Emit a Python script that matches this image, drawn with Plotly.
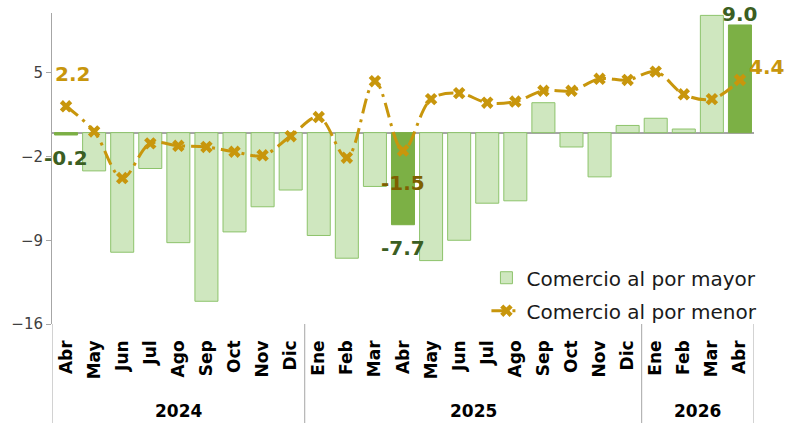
import plotly.graph_objects as go

# ---- data ----
years = ["2024"] * 9 + ["2025"] * 12 + ["2026"] * 4
months = ["Abr", "May", "Jun", "Jul", "Ago", "Sep", "Oct", "Nov", "Dic",
          "Ene", "Feb", "Mar", "Abr", "May", "Jun", "Jul", "Ago", "Sep", "Oct", "Nov", "Dic",
          "Ene", "Feb", "Mar", "Abr"]
mayor = [-0.2, -3.2, -10.0, -3.0, -9.2, -14.1, -8.3, -6.2, -4.8,
         -8.6, -10.5, -4.5, -7.7, -10.7, -9.0, -5.9, -5.7, 2.5, -1.2, -3.7, 0.6,
         1.2, 0.3, 9.8, 9.0]
menor = [2.2, 0.1, -3.8, -0.9, -1.1, -1.2, -1.6, -1.9, -0.3,
         1.3, -2.1, 4.3, -1.5, 2.8, 3.3, 2.5, 2.6, 3.5, 3.5, 4.5, 4.4,
         5.1, 3.2, 2.8, 4.4]
y_ticks = [-16, -9, -2, 5]
series_names = ["Comercio al por mayor", "Comercio al por menor"]
highlight_month = "Abr"

# ---- styles ----
LIGHT = "#CFE7BF"
LIGHT_EDGE = "#8DC36B"
DARK = "#7CB045"
GOLD = "#C8960C"
GOLD_DARK = "#7F6000"
GREEN_TXT = "#3B5E22"
AXIS_GRAY = "#A6A6A6"
FONT = "DejaVu Sans"
BAR_W = 0.82

n = len(months)
idx = list(range(n))
hl = [m == highlight_month for m in months]
reg_idx = [i for i in idx if not hl[i]]
hl_idx = [i for i in idx if hl[i]]

fig = go.Figure()
fig.add_trace(go.Bar(
    x=reg_idx, y=[mayor[i] for i in reg_idx], name=series_names[0], legendgroup="a",
    width=BAR_W,
    marker=dict(color=LIGHT, line=dict(color=LIGHT_EDGE, width=1)),
    hoverinfo="skip",
))
fig.add_trace(go.Bar(
    x=hl_idx, y=[mayor[i] for i in hl_idx], name=series_names[0], legendgroup="a",
    showlegend=False, width=BAR_W,
    marker=dict(color=DARK, line=dict(color=DARK, width=1)),
    hoverinfo="skip",
))
fig.add_trace(go.Scatter(
    x=idx, y=menor, name=series_names[1], mode="lines+markers", legendgroup="b",
    line=dict(color=GOLD, width=3, dash="longdashdot", shape="spline", smoothing=1.0),
    marker=dict(symbol="x", size=11, color=GOLD),
    cliponaxis=False, hoverinfo="skip",
))

# data labels on highlighted months (offsets are styling only)
menor_label_style = {0: dict(xs=6, ys=32, c=GOLD), 12: dict(xs=0, ys=-32, c=GOLD_DARK),
                     24: dict(xs=27, ys=13, c=GOLD)}
annotations = []
for i in hl_idx:
    v = mayor[i]
    annotations.append(dict(
        x=i, y=v, xref="x", yref="y", text=f"{v:.1f}", showarrow=False,
        yshift=11 if v > 0 else -23,
        font=dict(family=FONT, size=20, color=GREEN_TXT, weight="bold")))
    s = menor_label_style.get(i, dict(xs=0, ys=30, c=GOLD))
    w = menor[i]
    annotations.append(dict(
        x=i, y=w, xref="x", yref="y", text=f"{w:.1f}", showarrow=False,
        xshift=s["xs"], yshift=s["ys"],
        font=dict(family=FONT, size=20, color=s["c"], weight="bold")))

# year group labels and dividers, derived from the data
shapes = []
groups = []
start = 0
for i in range(1, n + 1):
    if i == n or years[i] != years[start]:
        groups.append((years[start], start, i - 1))
        start = i
DIV_BOTTOM = -0.32
for yr, a, b in groups:
    annotations.append(dict(
        x=(a + b) / 2, y=-0.28, xref="x", yref="paper", text=yr, showarrow=False,
        yanchor="middle", font=dict(family=FONT, size=17, color="#000000", weight="bold")))
bounds = sorted({a - 0.5 for _, a, _ in groups} | {b + 0.5 for _, _, b in groups})
for xb in bounds:
    shapes.append(dict(type="line", xref="x", yref="paper", x0=xb, x1=xb,
                       y0=0, y1=DIV_BOTTOM, line=dict(color=AXIS_GRAY, width=1)))

fig.update_layout(
    width=796, height=423,
    margin=dict(l=52, r=42, t=13, b=99),
    plot_bgcolor="white", paper_bgcolor="white",
    barmode="overlay",
    annotations=annotations,
    shapes=shapes,
    showlegend=True,
    legend=dict(x=1.012, xanchor="right", y=-0.02, yanchor="bottom",
                bgcolor="rgba(0,0,0,0)", font=dict(family=FONT, size=20, color="#1A1A1A"),
                traceorder="grouped", tracegroupgap=4),
    font=dict(family=FONT),
)
fig.update_yaxes(
    range=[-16, 10], tickvals=y_ticks, ticks="outside", ticklen=5, tickcolor=AXIS_GRAY,
    showline=True, linecolor=AXIS_GRAY, linewidth=1,
    zeroline=True, zerolinecolor=AXIS_GRAY, zerolinewidth=1.5,
    showgrid=False, tickfont=dict(family=FONT, size=15, color="#404040"),
    automargin=False,
)
fig.update_xaxes(
    range=[-0.5, n - 0.5], tickvals=idx, ticktext=months, tickangle=-90,
    tickfont=dict(family=FONT, size=17, color="#000000", weight="bold"),
    ticks="", showline=False, showgrid=False, zeroline=False, automargin=False,
    ticklabelstandoff=12,
)

fig.write_html("out.html", config={"displayModeBar": False},
               post_script="document.body.style.margin='0';")
